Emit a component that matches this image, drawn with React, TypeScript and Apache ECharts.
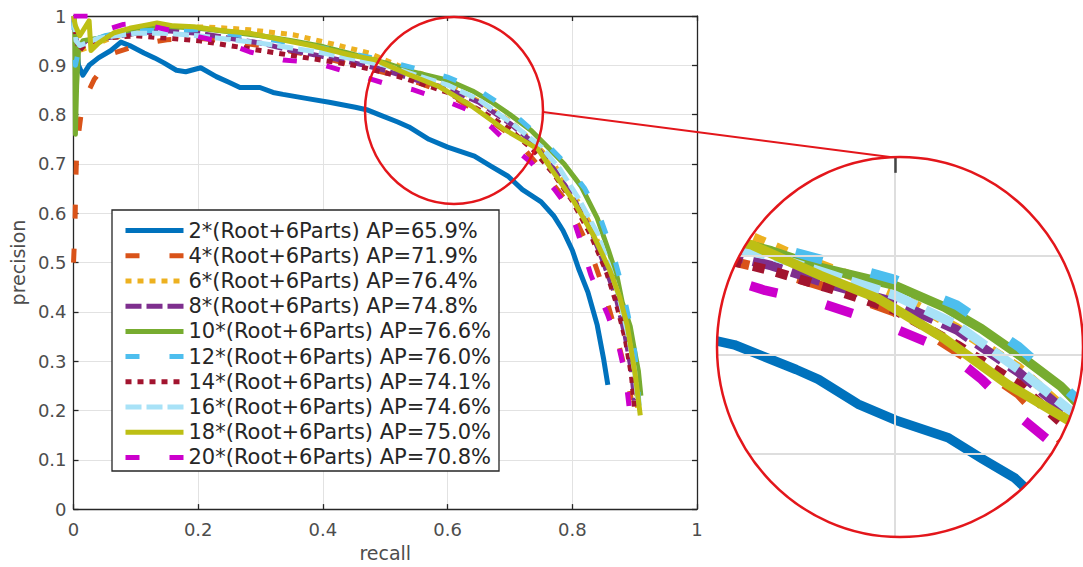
import React, { useEffect, useRef } from 'react';
import * as echarts from 'echarts';

const seriesNames = [
  '2*(Root+6Parts) AP=65.9%',
  '4*(Root+6Parts) AP=71.9%',
  '6*(Root+6Parts) AP=76.4%',
  '8*(Root+6Parts) AP=74.8%',
  '10*(Root+6Parts) AP=76.6%',
  '12*(Root+6Parts) AP=76.0%',
  '14*(Root+6Parts) AP=74.1%',
  '16*(Root+6Parts) AP=74.6%',
  '18*(Root+6Parts) AP=75.0%',
  '20*(Root+6Parts) AP=70.8%',
];

const seriesColors = ['#0072BD', '#D95319', '#EDB120', '#7E2F8E', '#77AC30', '#4DBEEE', '#A2142F', '#A8E2F7', '#BDBF14', '#CC00CC'];
// 0 solid, 1 long dash, 2 dotted, 3 short dash
const seriesDash = [0, 1, 2, 3, 0, 1, 2, 3, 0, 1];

const pr2 = [[0, 1.0], [0.003, 0.97], [0.008, 0.9], [0.015, 0.88], [0.025, 0.9], [0.04, 0.915], [0.06, 0.93], [0.076, 0.947], [0.09, 0.94], [0.113, 0.925], [0.13, 0.915], [0.145, 0.905], [0.165, 0.89], [0.18, 0.887], [0.204, 0.895], [0.229, 0.877], [0.25, 0.865], [0.267, 0.855], [0.299, 0.855], [0.32, 0.845], [0.336, 0.841], [0.373, 0.833], [0.41, 0.825], [0.452, 0.815], [0.47, 0.81], [0.49, 0.8], [0.52, 0.785], [0.538, 0.775], [0.57, 0.75], [0.6, 0.734], [0.643, 0.716], [0.67, 0.695], [0.697, 0.675], [0.72, 0.648], [0.75, 0.623], [0.77, 0.595], [0.785, 0.565], [0.8, 0.525], [0.81, 0.488], [0.825, 0.44], [0.84, 0.373], [0.85, 0.306], [0.857, 0.252]];
const pr4 = [[0, 0.5], [0.002, 0.56], [0.003, 0.62], [0.004, 0.68], [0.005, 0.72], [0.007, 0.75], [0.012, 0.8], [0.018, 0.825], [0.025, 0.85], [0.033, 0.871], [0.05, 0.9], [0.065, 0.925], [0.09, 0.935], [0.118, 0.945], [0.15, 0.952], [0.2, 0.955], [0.25, 0.948], [0.3, 0.94], [0.35, 0.928], [0.4, 0.915], [0.45, 0.9], [0.5, 0.885], [0.55, 0.866], [0.6, 0.843], [0.654, 0.8], [0.7, 0.76], [0.723, 0.73], [0.75, 0.69], [0.787, 0.63], [0.81, 0.575], [0.83, 0.52], [0.85, 0.447], [0.865, 0.38], [0.88, 0.306], [0.89, 0.25], [0.895, 0.22]];
const pr6 = [[0, 1.0], [0.004, 0.95], [0.01, 0.93], [0.03, 0.94], [0.06, 0.955], [0.1, 0.965], [0.15, 0.975], [0.209, 0.978], [0.25, 0.975], [0.283, 0.972], [0.352, 0.962], [0.41, 0.945], [0.474, 0.925], [0.52, 0.9], [0.56, 0.882], [0.6, 0.862], [0.65, 0.827], [0.7, 0.787], [0.74, 0.742], [0.77, 0.7], [0.8, 0.645], [0.83, 0.575], [0.855, 0.5], [0.87, 0.44], [0.885, 0.37], [0.895, 0.3], [0.902, 0.24], [0.905, 0.2]];
const pr8 = [[0, 1.0], [0.005, 0.93], [0.02, 0.95], [0.05, 0.955], [0.1, 0.965], [0.15, 0.97], [0.2, 0.965], [0.25, 0.955], [0.3, 0.945], [0.35, 0.93], [0.4, 0.918], [0.45, 0.905], [0.5, 0.89], [0.55, 0.87], [0.6, 0.853], [0.65, 0.825], [0.7, 0.782], [0.74, 0.74], [0.77, 0.69], [0.8, 0.635], [0.83, 0.565], [0.85, 0.5], [0.87, 0.43], [0.885, 0.35], [0.895, 0.28], [0.9, 0.22]];
const pr10 = [[0, 1.0], [0.002, 0.98], [0.003, 0.76], [0.005, 0.86], [0.008, 0.93], [0.015, 0.95], [0.04, 0.955], [0.07, 0.965], [0.1, 0.975], [0.13, 0.98], [0.16, 0.978], [0.2, 0.975], [0.25, 0.968], [0.3, 0.96], [0.35, 0.95], [0.4, 0.938], [0.44, 0.925], [0.5, 0.905], [0.54, 0.888], [0.6, 0.87], [0.64, 0.848], [0.67, 0.826], [0.7, 0.8], [0.734, 0.768], [0.76, 0.735], [0.787, 0.7], [0.814, 0.655], [0.84, 0.59], [0.858, 0.525], [0.872, 0.47], [0.88, 0.42], [0.893, 0.37], [0.9, 0.32], [0.906, 0.28], [0.91, 0.23]];
const pr12 = [[0, 1.0], [0.003, 0.9], [0.01, 0.94], [0.05, 0.96], [0.1, 0.97], [0.2, 0.972], [0.3, 0.955], [0.4, 0.935], [0.5, 0.91], [0.55, 0.893], [0.6, 0.876], [0.65, 0.85], [0.7, 0.808], [0.75, 0.752], [0.79, 0.7], [0.82, 0.65], [0.845, 0.59], [0.865, 0.52], [0.878, 0.46], [0.89, 0.39], [0.9, 0.32], [0.905, 0.25], [0.907, 0.21]];
const pr14 = [[0, 1.0], [0.005, 0.95], [0.01, 0.93], [0.02, 0.945], [0.05, 0.955], [0.1, 0.96], [0.15, 0.955], [0.2, 0.95], [0.25, 0.94], [0.3, 0.93], [0.35, 0.92], [0.4, 0.91], [0.45, 0.9], [0.5, 0.885], [0.55, 0.866], [0.6, 0.845], [0.65, 0.81], [0.7, 0.77], [0.74, 0.725], [0.77, 0.68], [0.8, 0.625], [0.83, 0.555], [0.855, 0.48], [0.87, 0.42], [0.885, 0.345], [0.895, 0.27], [0.9, 0.2]];
const pr16 = [[0, 1.0], [0.004, 0.95], [0.01, 0.94], [0.04, 0.955], [0.1, 0.965], [0.15, 0.965], [0.2, 0.96], [0.3, 0.945], [0.4, 0.925], [0.5, 0.9], [0.55, 0.88], [0.6, 0.86], [0.65, 0.83], [0.7, 0.785], [0.75, 0.735], [0.78, 0.69], [0.81, 0.63], [0.84, 0.56], [0.86, 0.49], [0.875, 0.43], [0.89, 0.35], [0.9, 0.28], [0.905, 0.22]];
const pr18 = [[0, 1.0], [0.003, 0.98], [0.01, 0.96], [0.025, 0.99], [0.028, 0.93], [0.04, 0.945], [0.065, 0.966], [0.09, 0.975], [0.118, 0.982], [0.134, 0.986], [0.16, 0.98], [0.193, 0.978], [0.24, 0.97], [0.283, 0.965], [0.33, 0.953], [0.389, 0.938], [0.44, 0.922], [0.484, 0.911], [0.54, 0.88], [0.586, 0.857], [0.639, 0.817], [0.691, 0.77], [0.745, 0.73], [0.766, 0.69], [0.803, 0.623], [0.834, 0.555], [0.86, 0.485], [0.876, 0.43], [0.888, 0.373], [0.901, 0.272], [0.909, 0.19]];
const pr20 = [[0, 1.0], [0.04, 1.0], [0.045, 0.99], [0.06, 0.975], [0.08, 0.983], [0.1, 0.985], [0.13, 0.978], [0.177, 0.965], [0.245, 0.945], [0.283, 0.927], [0.336, 0.911], [0.389, 0.905], [0.443, 0.885], [0.495, 0.865], [0.543, 0.851], [0.591, 0.831], [0.639, 0.806], [0.67, 0.775], [0.702, 0.736], [0.734, 0.703], [0.771, 0.649], [0.798, 0.603], [0.814, 0.54], [0.83, 0.474], [0.857, 0.393], [0.874, 0.333], [0.885, 0.272], [0.89, 0.22], [0.893, 0.185]];

const allData = [pr2, pr4, pr6, pr8, pr10, pr12, pr14, pr16, pr18, pr20];

// zoomed region shown in the magnifier (recall / precision ranges)
const zoomRecall = [0.456, 0.752];
const zoomPrecision = [0.6155, 1.0];
const zoomGridX = [0.6];
const zoomGridY = [0.7, 0.8, 0.9];

const dashMain: any[] = ['solid', [14, 30], [6, 6], [16, 5]];
const dashZoom: any[] = ['solid', [28, 50], [12, 12], [30, 10]];

const FONT = 'DejaVu Sans';
const AX = '#262626';
const RED = '#E3161B';

// magnifier geometry
const CX = 900, CY = 347, RX = 183, RY = 190;

function arcPts(a0: number, a1: number, n = 48) {
  const pts: number[][] = [];
  for (let i = 0; i <= n; i++) {
    const t = a0 + ((a1 - a0) * i) / n;
    pts.push([CX + RX * Math.cos(t), CY + RY * Math.sin(t)]);
  }
  return pts;
}

export default function App() {
  const ref = useRef<HTMLDivElement>(null);
  useEffect(() => {
    if (!ref.current) return;
    const chart = echarts.init(ref.current, null, { renderer: 'svg' });
    const E = 8;
    const P = Math.PI;
    const masks = [
      [[CX - RX - E, CY], ...arcPts(P, 1.5 * P), [CX, CY - RY - E], [CX - RX - E, CY - RY - E]],
      [[CX, CY - RY - E], ...arcPts(1.5 * P, 2 * P), [CX + RX + E, CY], [CX + RX + E, CY - RY - E]],
      [[CX + RX + E, CY], ...arcPts(0, 0.5 * P), [CX, CY + RY + E], [CX + RX + E, CY + RY + E]],
      [[CX, CY + RY + E], ...arcPts(0.5 * P, P), [CX - RX - E, CY], [CX - RX - E, CY + RY + E]],
    ];

    const mainSeries = allData.map((d, i) => ({
      type: 'line',
      name: seriesNames[i],
      data: d,
      xAxisIndex: 0,
      yAxisIndex: 0,
      showSymbol: false,
      symbol: 'none',
      silent: true,
      z: 2,
      lineStyle: { width: 5, color: seriesColors[i], type: dashMain[seriesDash[i]], join: 'round' },
      itemStyle: { color: seriesColors[i] },
    }));
    const zoomSeries = allData.map((d, i) => ({
      type: 'line',
      name: seriesNames[i],
      data: d,
      xAxisIndex: 2,
      yAxisIndex: 2,
      showSymbol: false,
      symbol: 'none',
      silent: true,
      z: 3,
      lineStyle: { width: 9.5, color: seriesColors[i], type: dashZoom[seriesDash[i]], join: 'round' },
      itemStyle: { color: seriesColors[i] },
    }));
    const gridSeries = {
      type: 'line',
      name: 'zoomgrid',
      data: [],
      xAxisIndex: 2,
      yAxisIndex: 2,
      silent: true,
      z: 1,
      markLine: {
        silent: true,
        symbol: 'none',
        animation: false,
        label: { show: false },
        lineStyle: { color: '#dedede', width: 2, type: 'solid' },
        data: [
          ...zoomGridX.map((v) => ({ xAxis: v })),
          ...zoomGridY.map((v) => ({ yAxis: v })),
          [
            { coord: [zoomGridX[0], zoomPrecision[1]], lineStyle: { color: '#444', width: 2.5, type: 'solid' } },
            { coord: [zoomGridX[0], zoomPrecision[1] - 0.016] },
          ],
        ],
      },
    };

    const axisText = { color: '#4d4d4d', fontSize: 18, fontFamily: FONT };
    const hiddenAxis = {
      show: false,
      axisLine: { show: false },
      axisTick: { show: false },
      axisLabel: { show: false },
      splitLine: { show: false },
    };

    chart.setOption({
      animation: false,
      backgroundColor: '#ffffff',
      grid: [
        { left: 69, right: 386, top: 16, bottom: 55, containLabel: false },
        { left: 717, top: 157, width: 366, height: 380, containLabel: false },
      ],
      xAxis: [
        {
          type: 'value', gridIndex: 0, min: 0, max: 1, interval: 0.2, position: 'bottom',
          name: 'recall', nameLocation: 'middle', nameGap: 32,
          nameTextStyle: { color: '#4d4d4d', fontSize: 19, fontFamily: FONT },
          axisLine: { show: true, onZero: false, lineStyle: { color: AX, width: 1.3 } },
          axisTick: { show: true, inside: true, length: 5, lineStyle: { color: AX, width: 1.3 } },
          axisLabel: { ...axisText, margin: 11 },
          splitLine: { show: true, lineStyle: { color: '#e2e2e2', width: 1 } },
        },
        {
          type: 'value', gridIndex: 0, min: 0, max: 1, interval: 0.2, position: 'top',
          axisLine: { show: true, onZero: false, lineStyle: { color: AX, width: 1.3 } },
          axisTick: { show: true, inside: true, length: 5, lineStyle: { color: AX, width: 1.3 } },
          axisLabel: { show: false },
          splitLine: { show: false },
        },
        { type: 'value', gridIndex: 1, min: zoomRecall[0], max: zoomRecall[1], ...hiddenAxis },
      ],
      yAxis: [
        {
          type: 'value', gridIndex: 0, min: 0, max: 1, interval: 0.1, position: 'left',
          name: 'precision', nameLocation: 'middle', nameGap: 44,
          nameTextStyle: { color: '#4d4d4d', fontSize: 19, fontFamily: FONT },
          axisLine: { show: true, onZero: false, lineStyle: { color: AX, width: 1.3 } },
          axisTick: { show: true, inside: true, length: 5, lineStyle: { color: AX, width: 1.3 } },
          axisLabel: { ...axisText, margin: 7 },
          splitLine: { show: true, lineStyle: { color: '#e2e2e2', width: 1 } },
        },
        {
          type: 'value', gridIndex: 0, min: 0, max: 1, interval: 0.1, position: 'right',
          axisLine: { show: true, onZero: false, lineStyle: { color: AX, width: 1.3 } },
          axisTick: { show: true, inside: true, length: 5, lineStyle: { color: AX, width: 1.3 } },
          axisLabel: { show: false },
          splitLine: { show: false },
        },
        { type: 'value', gridIndex: 1, min: zoomPrecision[0], max: zoomPrecision[1], ...hiddenAxis },
      ],
      legend: {
        data: seriesNames,
        orient: 'vertical',
        left: 112,
        top: 210,
        padding: [8, 8, 2, 11],
        itemWidth: 58,
        itemHeight: 14,
        itemGap: 0,
        selectedMode: false,
        z: 6,
        backgroundColor: 'transparent',
        borderWidth: 0,
        itemStyle: { opacity: 0, borderWidth: 0 },
        lineStyle: { width: 5 },
        textStyle: { color: '#262626', fontSize: 21, fontFamily: FONT, lineHeight: 25.2 },
      },
      graphic: [
        {
          type: 'rect', z: 5, silent: true,
          shape: { x: 112, y: 210, width: 387, height: 261 },
          style: { fill: '#ffffff', stroke: AX, lineWidth: 1.3 },
        },
        ...masks.map((pts) => ({
          type: 'polygon', z: 20, silent: true,
          shape: { points: pts },
          style: { fill: '#ffffff', stroke: 'none' },
        })),
        {
          type: 'ellipse', z: 22, silent: true,
          shape: { cx: 454, cy: 110.5, rx: 89, ry: 93.5 },
          style: { fill: 'none', stroke: RED, lineWidth: 2.5 },
        },
        {
          type: 'ellipse', z: 22, silent: true,
          shape: { cx: CX, cy: CY, rx: RX, ry: RY },
          style: { fill: 'none', stroke: RED, lineWidth: 2.5 },
        },
        {
          type: 'line', z: 22, silent: true,
          shape: { x1: 543, y1: 112, x2: 890, y2: 157 },
          style: { stroke: RED, lineWidth: 2 },
        },
      ],
      series: [...mainSeries, gridSeries, ...zoomSeries],
    });
    return () => chart.dispose();
  }, []);
  return (
    <div
      ref={ref}
      style={{ position: 'absolute', left: 0, top: 0, width: 1083, height: 567, background: '#fff' }}
    />
  );
}
